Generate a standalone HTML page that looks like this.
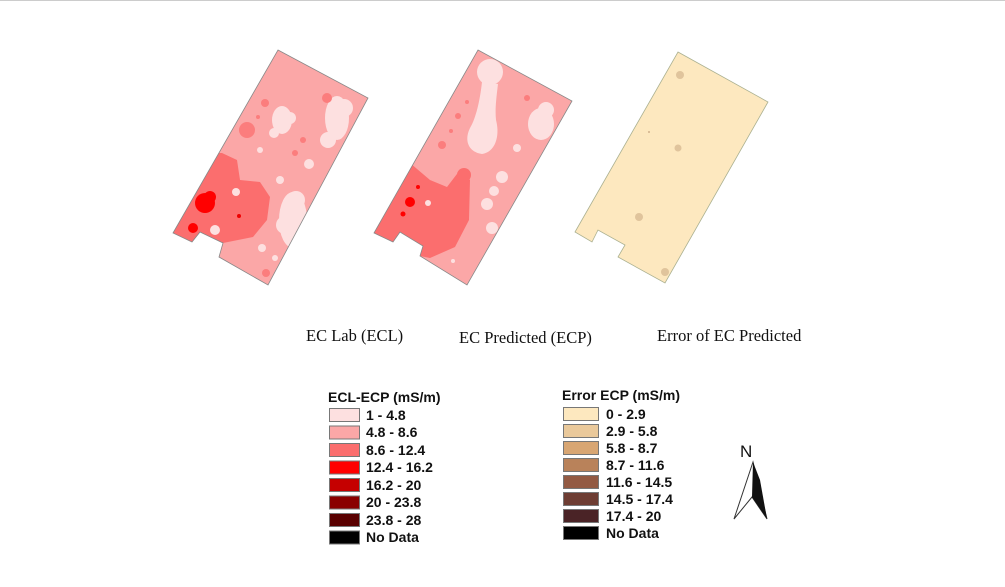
<!DOCTYPE html>
<html><head><style>
body{margin:0;background:#fff;}
svg{display:block}
.l{font-family:"Liberation Serif",serif;font-size:16.5px;fill:#111}
.g{font-family:"Liberation Sans",sans-serif;font-size:14px;font-weight:bold;fill:#111}
</style></head><body>
<svg width="1005" height="587" viewBox="0 0 1005 587" xmlns="http://www.w3.org/2000/svg">
<line x1="0" y1="0.5" x2="1005" y2="0.5" stroke="#ccc"/>
<defs>
<clipPath id="c1"><polygon points="278,50 368,98 268,285 219,257 223,243 200,232 192,242 173,233"/></clipPath>
<clipPath id="c2"><polygon points="478,50 572,101 467,285 420,256 423,246 400,232 393,242 374,233"/></clipPath>
</defs>
<!-- map 1 -->
<g clip-path="url(#c1)">
<rect x="160" y="40" width="220" height="260" fill="#fba7a7"/>
<polygon points="222,153 237,160 240,180 260,182 270,197 267,220 253,237 223,243 200,232 192,242 173,233 193,187 217,153" fill="#fb6e6e"/>
<circle cx="205" cy="203" r="10" fill="#f00"/><circle cx="210" cy="197" r="6" fill="#f00"/><circle cx="193" cy="228" r="5" fill="#f00"/>
<circle cx="239" cy="216" r="2" fill="#e00"/>
<ellipse cx="282" cy="120" rx="10" ry="14" fill="#fde0e0"/><circle cx="290" cy="118" r="6" fill="#fde0e0"/><circle cx="274" cy="133" r="5" fill="#fde0e0"/>
<ellipse cx="337" cy="118" rx="12" ry="22" fill="#fde0e0"/><ellipse cx="328" cy="140" rx="8" ry="8" fill="#fde0e0"/><circle cx="344" cy="108" r="9" fill="#fde0e0"/>
<ellipse cx="293" cy="220" rx="14" ry="28" fill="#fde0e0"/><circle cx="285" cy="225" r="9" fill="#fde0e0"/><circle cx="296" cy="200" r="9" fill="#fde0e0"/>
<circle cx="247" cy="130" r="8" fill="#fb7d7d"/><circle cx="265" cy="103" r="4" fill="#fb7d7d"/><circle cx="327" cy="98" r="5" fill="#fb7d7d"/><circle cx="303" cy="140" r="3" fill="#fb7d7d"/><circle cx="295" cy="153" r="3" fill="#fb7d7d"/><circle cx="266" cy="273" r="4" fill="#fb7d7d"/><circle cx="258" cy="117" r="2" fill="#fb7d7d"/>
<circle cx="260" cy="150" r="3" fill="#fde0e0"/><circle cx="309" cy="164" r="5" fill="#fde0e0"/><circle cx="280" cy="180" r="4" fill="#fde0e0"/><circle cx="236" cy="192" r="4" fill="#fde0e0"/><circle cx="215" cy="230" r="5" fill="#fde0e0"/><circle cx="262" cy="248" r="4" fill="#fde0e0"/><circle cx="275" cy="258" r="3" fill="#fde0e0"/>
</g>
<polygon points="278,50 368,98 268,285 219,257 223,243 200,232 192,242 173,233" fill="none" stroke="#888" stroke-width="0.8"/>
<!-- map 2 -->
<g clip-path="url(#c2)">
<rect x="360" y="40" width="220" height="260" fill="#fba7a7"/>
<polygon points="410,163 430,180 447,187 460,170 470,180 469,220 455,247 430,258 420,256 423,246 400,232 393,242 374,233 395,190" fill="#fb6e6e"/>
<circle cx="464" cy="175" r="7" fill="#fb6e6e"/>
<circle cx="490" cy="72" r="13" fill="#fde0e0"/>
<path d="M482,82 L498,84 C496,100 495,110 496,120 C500,135 496,152 482,154 C468,152 464,140 470,128 C476,118 480,100 482,82 Z" fill="#fde0e0"/>
<ellipse cx="541" cy="124" rx="13" ry="16" fill="#fde0e0"/><circle cx="546" cy="110" r="8" fill="#fde0e0"/>
<circle cx="410" cy="202" r="5" fill="#f00"/><circle cx="403" cy="214" r="2.5" fill="#f00"/><circle cx="418" cy="187" r="2" fill="#f00"/>
<circle cx="502" cy="177" r="6" fill="#fde0e0"/><circle cx="494" cy="191" r="5" fill="#fde0e0"/><circle cx="487" cy="204" r="6" fill="#fde0e0"/><circle cx="492" cy="228" r="6" fill="#fde0e0"/><circle cx="517" cy="148" r="4" fill="#fde0e0"/><circle cx="428" cy="203" r="3" fill="#fde0e0"/><circle cx="453" cy="261" r="2" fill="#fde0e0"/>
<circle cx="467" cy="102" r="2" fill="#fb7d7d"/><circle cx="458" cy="116" r="3" fill="#fb7d7d"/><circle cx="451" cy="131" r="2" fill="#fb7d7d"/><circle cx="442" cy="145" r="4" fill="#fb7d7d"/><circle cx="527" cy="98" r="3" fill="#fb7d7d"/>
</g>
<polygon points="478,50 572,101 467,285 420,256 423,246 400,232 393,242 374,233" fill="none" stroke="#888" stroke-width="0.8"/>
<!-- map 3 -->
<polygon points="678,52 768,102 665,283 618,257 625,245 598,230 592,242 575,232" fill="#fde8bf" stroke="#aab090" stroke-width="0.8"/>
<circle cx="680" cy="75" r="4" fill="#e0c49c"/><circle cx="678" cy="148" r="3.5" fill="#e0c49c"/><circle cx="639" cy="217" r="4" fill="#e0c49c"/><circle cx="665" cy="272" r="4" fill="#e0c49c"/><circle cx="649" cy="132" r="1" fill="#d0b08c"/>
<text class="l" x="306" y="341">EC Lab (ECL)</text>
<text class="l" x="459" y="343">EC Predicted (ECP)</text>
<text class="l" x="657" y="341">Error of EC Predicted</text>
<!-- legend 1 -->
<text class="g" x="328" y="402">ECL-ECP (mS/m)</text>
<g stroke="#777" stroke-width="1">
<rect x="329.5" y="408.5" width="30" height="13" fill="#fde0e0"/>
<rect x="329.5" y="426" width="30" height="13" fill="#fba7a7"/>
<rect x="329.5" y="443.5" width="30" height="13" fill="#fb6e6e"/>
<rect x="329.5" y="461" width="30" height="13" fill="#f00"/>
<rect x="329.5" y="478.5" width="30" height="13" fill="#c50000"/>
<rect x="329.5" y="496" width="30" height="13" fill="#8a0000"/>
<rect x="329.5" y="513.5" width="30" height="13" fill="#5a0000"/>
<rect x="329.5" y="531" width="30" height="13" fill="#000"/>
</g>
<text class="g" x="366" y="420">1 - 4.8</text>
<text class="g" x="366" y="437">4.8 - 8.6</text>
<text class="g" x="366" y="455">8.6 - 12.4</text>
<text class="g" x="366" y="472">12.4 - 16.2</text>
<text class="g" x="366" y="490">16.2 - 20</text>
<text class="g" x="366" y="507">20 - 23.8</text>
<text class="g" x="366" y="525">23.8 - 28</text>
<text class="g" x="366" y="542">No Data</text>
<!-- legend 2 -->
<text class="g" x="562" y="400">Error ECP (mS/m)</text>
<g stroke="#777" stroke-width="1">
<rect x="563.5" y="407.5" width="35" height="13" fill="#fde8bf"/>
<rect x="563.5" y="424.5" width="35" height="13" fill="#eac99b"/>
<rect x="563.5" y="441.5" width="35" height="13" fill="#d8a673"/>
<rect x="563.5" y="458.5" width="35" height="13" fill="#b9825a"/>
<rect x="563.5" y="475.5" width="35" height="13" fill="#935a43"/>
<rect x="563.5" y="492.5" width="35" height="13" fill="#6e3d33"/>
<rect x="563.5" y="509.5" width="35" height="13" fill="#4a2326"/>
<rect x="563.5" y="526.5" width="35" height="13" fill="#000"/>
</g>
<text class="g" x="606" y="419">0 - 2.9</text>
<text class="g" x="606" y="436">2.9 - 5.8</text>
<text class="g" x="606" y="453">5.8 - 8.7</text>
<text class="g" x="606" y="470">8.7 - 11.6</text>
<text class="g" x="606" y="487">11.6 - 14.5</text>
<text class="g" x="606" y="504">14.5 - 17.4</text>
<text class="g" x="606" y="521">17.4 - 20</text>
<text class="g" x="606" y="538">No Data</text>
<!-- north arrow -->
<text x="740" y="457" font-family="Liberation Sans,sans-serif" font-size="17" fill="#111">N</text>
<polygon points="753,462 734,519 752,497 767,519" fill="none" stroke="#333" stroke-width="1"/>
<polygon points="753,462 752,497 767,519 760,480" fill="#111"/>
</svg>
</body></html>
